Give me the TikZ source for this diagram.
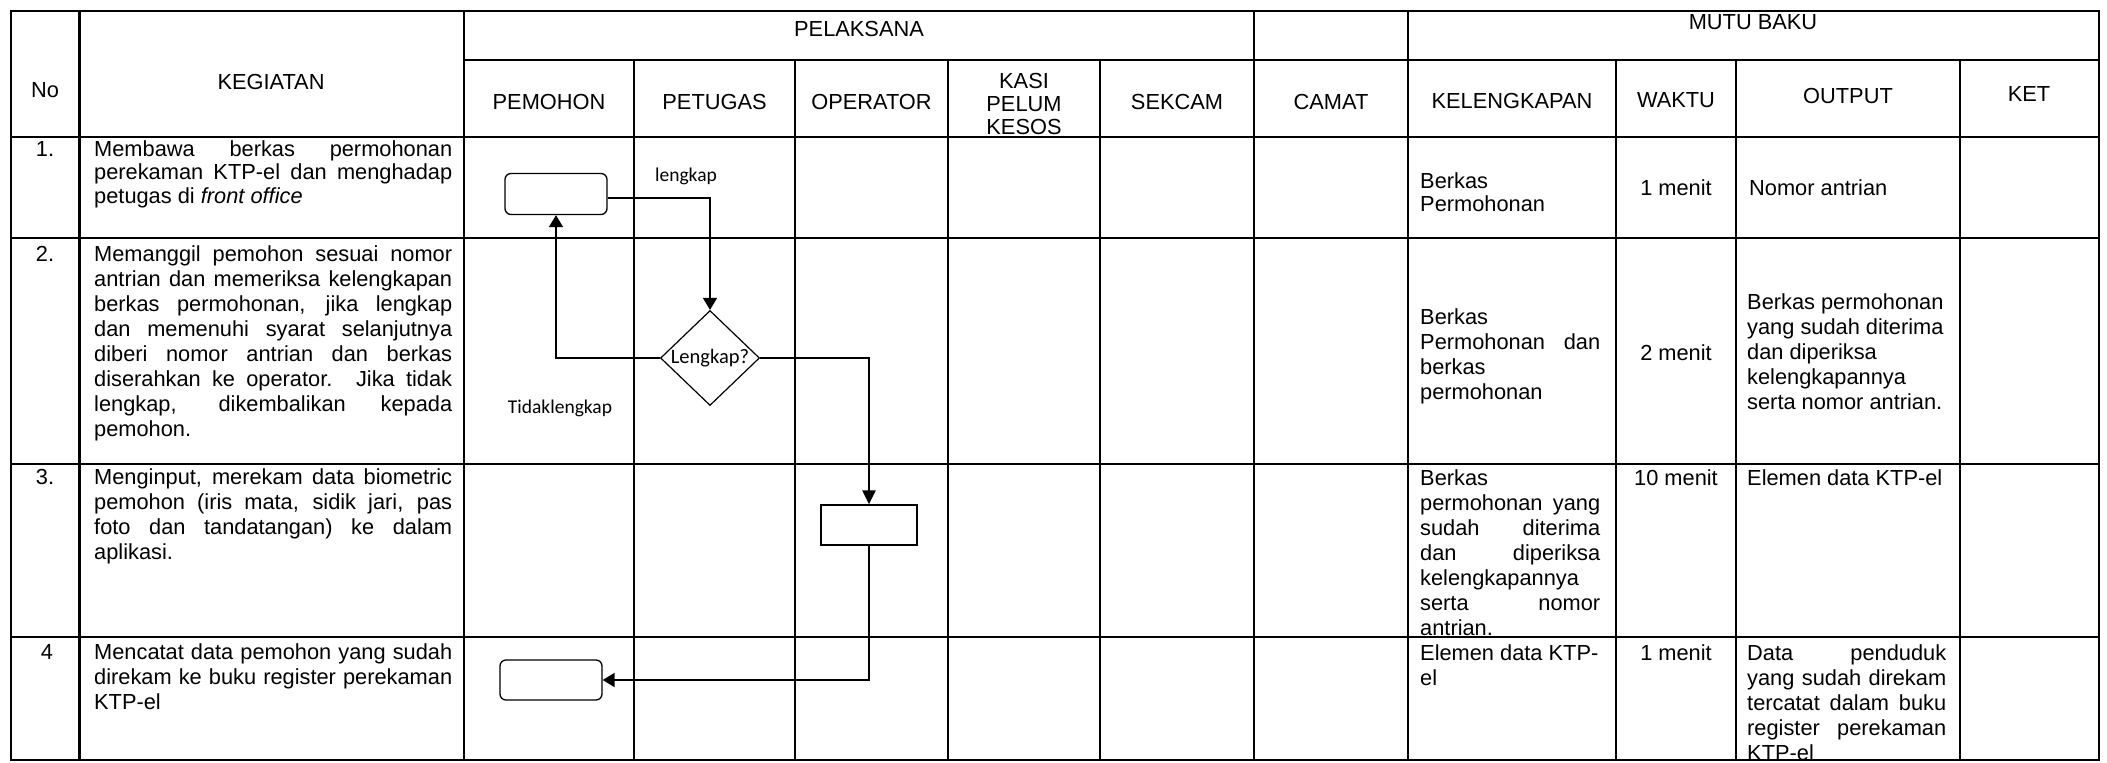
\documentclass[tikz,border=0pt]{standalone}
\usepackage{fontspec}
\setmainfont{Liberation Sans}
\newfontfamily\lblfont{Carlito}
\usetikzlibrary{arrows.meta,shapes.geometric}
\begin{document}
\begin{tikzpicture}[x=1pt,y=-1pt,
  vline/.style={line width=2.2pt, line cap=rect},
  hline/.style={line width=2.8pt, line cap=rect},
  celltext/.style={font=\fontsize{21.8}{25}\selectfont, inner sep=0pt},
  hdr/.style={celltext, align=center},
  num/.style={celltext, anchor=base},
  para/.style={celltext, align=justify, anchor=base west,
    execute at begin node={\tolerance=10000\hbadness=10000\hyphenpenalty=10000\exhyphenpenalty=10000}},
  lbl/.style={font=\lblfont\fontsize{19.5}{24}\selectfont, inner sep=0pt},
  rbox/.style={draw, line width=1.3pt, rounded corners=6pt, minimum width=102pt, minimum height=41pt, inner sep=0pt},
  pbox/.style={draw, line width=1.3pt, minimum width=96pt, minimum height=40pt, inner sep=0pt},
  dia/.style={draw, diamond, line width=1.2pt, minimum width=99pt, minimum height=95pt, inner sep=0pt, font=\lblfont\fontsize{20.5}{24}\selectfont},
  flow/.style={line width=1.4pt, -{Triangle[length=12pt,width=14pt]}}
]
\useasboundingbox (0,0) rectangle (2107,763);
\fill[white] (0,0) rectangle (2107,763);

% table frame
\draw[hline] (11,11) -- (2099,11);
\draw[hline] (11,760) -- (2099,760);
\draw[hline] (464,60) -- (2099,60);
\draw[hline] (11,137) -- (2099,137);
\draw[hline] (11,238) -- (2099,238);
\draw[hline] (11,464) -- (2099,464);
\draw[hline] (11,637) -- (2099,637);
\foreach \xx in {11,79.5,464,1254,1408,2099} \draw[vline] (\xx,11) -- (\xx,760);
\foreach \xx in {634,795,948,1100,1616,1736,1960} \draw[vline] (\xx,60) -- (\xx,760);

% headers
\node[hdr] (hNo) at (45,90) {No};
\node[hdr] (hKeg) at (271,82) {KEGIATAN};
\node[hdr] (hPel) at (859,29) {PELAKSANA};
\node[hdr] (hMutu) at (1753,22) {MUTU BAKU};
\node[hdr] (hPem) at (549,102) {PEMOHON};
\node[hdr] (hPet) at (714.5,102) {PETUGAS};
\node[hdr] (hOpr) at (871.5,102) {OPERATOR};
\node[hdr, font=\fontsize{21.8}{23}\selectfont] (hKasi) at (1024,104) {KASI\\PELUM\\KESOS};
\node[hdr] (hSek) at (1177,102) {SEKCAM};
\node[hdr] (hCam) at (1331,102) {CAMAT};
\node[hdr] (hKel) at (1512,101) {KELENGKAPAN};
\node[hdr] (hWak) at (1676,100) {WAKTU};
\node[hdr] (hOut) at (1848,96) {OUTPUT};
\node[hdr] (hKet) at (2029,94) {KET};

% numbers
\node[num] (n1) at (45,156) {1.};
\node[num] (n2) at (45,261) {2.};
\node[num] (n3) at (45,484) {3.};
\node[num] (n4) at (47,659) {4};

% kegiatan
\node[para, text width=358pt, font=\fontsize{21.8}{23.5}\selectfont] (k1) at (94,156)
  {Membawa berkas permohonan\linebreak perekaman KTP-el dan menghadap\linebreak petugas di \textit{front office}};
\node[para, text width=358pt] (k2) at (94,261)
  {Memanggil pemohon sesuai nomor\linebreak antrian dan memeriksa kelengkapan\linebreak berkas permohonan, jika lengkap\linebreak dan memenuhi syarat selanjutnya\linebreak diberi nomor antrian dan berkas\linebreak diserahkan ke operator. Jika tidak\linebreak lengkap, dikembalikan kepada\linebreak pemohon.};
\node[para, text width=358pt] (k3) at (94,484)
  {Menginput, merekam data biometric\linebreak pemohon (iris mata, sidik jari, pas\linebreak foto dan tandatangan) ke dalam\linebreak aplikasi.};
\node[para, text width=358pt] (k4) at (94,659)
  {Mencatat data pemohon yang sudah\linebreak direkam ke buku register perekaman\linebreak KTP-el};

% kelengkapan
\node[para, text width=180pt, font=\fontsize{21.8}{23}\selectfont] (kel1) at (1420,188) {Berkas\newline Permohonan};
\node[para, text width=180pt] (kel2) at (1420,324) {Berkas\newline Permohonan dan\linebreak berkas\newline permohonan};
\node[para, text width=180pt] (kel3) at (1420,485) {Berkas\newline permohonan yang\linebreak sudah diterima\linebreak dan diperiksa\linebreak kelengkapannya\newline serta nomor\linebreak antrian.};
\node[para, text width=180pt] (kel4) at (1420,660) {Elemen data KTP-\newline el};

% waktu
\node[num] (w1) at (1676,195) {1 menit};
\node[num] (w2) at (1676,360) {2 menit};
\node[num] (w3) at (1676,485) {10 menit};
\node[num] (w4) at (1676,660) {1 menit};

% output
\node[para, text width=199pt] (o1) at (1749,195) {Nomor antrian};
\node[para, text width=199pt] (o2) at (1747,309) {Berkas permohonan\newline yang sudah diterima\newline dan diperiksa\newline kelengkapannya\newline serta nomor antrian.};
\node[para, text width=199pt] (o3) at (1747,485) {Elemen data KTP-el};
\node[para, text width=199pt] (o4) at (1747,660) {Data penduduk\linebreak yang sudah direkam\linebreak tercatat dalam buku\linebreak register perekaman\linebreak KTP-el};

% flowchart
\node[rbox] (r1) at (556,194) {};
\node[dia] (d) at (710,358) {\makebox[0pt]{Lengkap?}};
\node[pbox] (r3) at (869,525) {};
\node[rbox, minimum height=40pt] (r4) at (551,680) {};

\node[lbl] (lLk) at (686,176) {lengkap};
\node[lbl] (lTl) at (560,408) {Tidaklengkap};

\draw[flow] ([yshift=-4pt]r1.east) -| (d.north);
\draw[flow, line width=1.2pt] (d.west) -| (r1.south);
\draw[flow, line width=2.6pt, -{Triangle[length=14pt,width=13pt]}] (d.east) -| (r3.north);
\draw[flow, line width=2pt] (r3.south) |- (r4.east);
\end{tikzpicture}
\end{document}
